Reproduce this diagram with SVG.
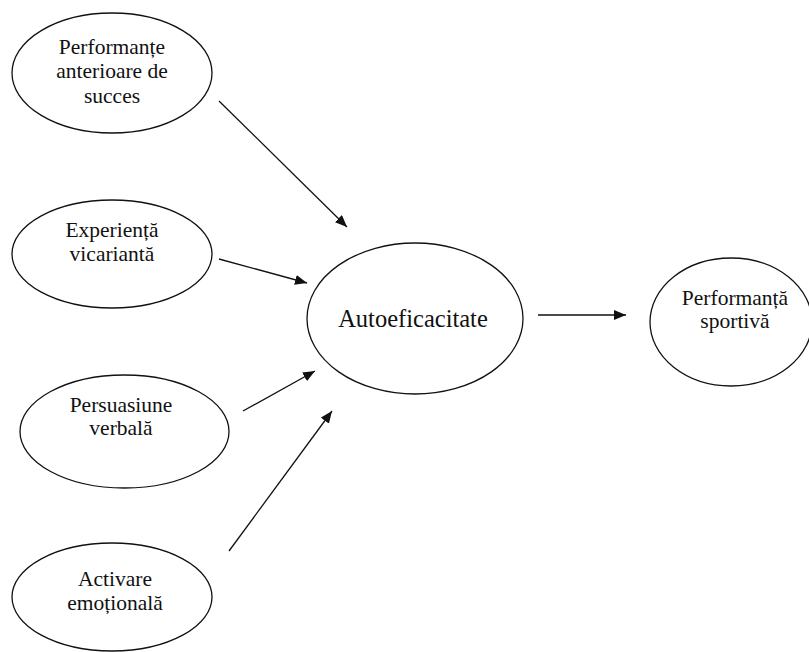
<svg xmlns="http://www.w3.org/2000/svg" width="809" height="652" viewBox="0 0 809 652">
<style>
.n{fill:#fff;stroke:#111;stroke-width:1.3}
.t{font-family:'Liberation Serif','Times New Roman','DejaVu Serif',serif;font-size:21.5px;fill:#111;text-anchor:middle}
.c{stroke:#111;stroke-width:1.3;fill:none;marker-end:url(#ah)}
</style>
<defs>
<marker id="ah" viewBox="0 0 12 10" refX="12" refY="5" markerWidth="12" markerHeight="10" markerUnits="userSpaceOnUse" orient="auto">
<path d="M0,0 L12,5 L0,10 z" fill="#111"/>
</marker>
</defs>
<rect width="809" height="652" fill="#fff"/>
<g id="n1">
<ellipse class="n" cx="112" cy="73" rx="100" ry="60"/>
<text class="t" x="112" y="54" font-family="Liberation Serif, serif">Performanțe</text>
<text class="t" x="112" y="78" font-family="Liberation Serif, serif">anterioare de</text>
<text class="t" x="112" y="103" font-family="Liberation Serif, serif">succes</text>
</g>
<g id="n2">
<ellipse class="n" cx="112" cy="254" rx="100" ry="54"/>
<text class="t" x="112" y="237" font-family="Liberation Serif, serif">Experiență</text>
<text class="t" x="112" y="261" font-family="Liberation Serif, serif">vicariantă</text>
</g>
<g id="n3">
<ellipse class="n" cx="124.5" cy="431.5" rx="104.5" ry="56.5"/>
<text class="t" x="121" y="412" font-family="Liberation Serif, serif">Persuasiune</text>
<text class="t" x="121" y="435" font-family="Liberation Serif, serif">verbală</text>
</g>
<g id="n4">
<ellipse class="n" cx="112" cy="597" rx="100" ry="54"/>
<text class="t" x="115" y="586" font-family="Liberation Serif, serif">Activare</text>
<text class="t" x="115" y="610" font-family="Liberation Serif, serif">emoțională</text>
</g>
<g id="n5">
<ellipse class="n" cx="415" cy="318.5" rx="108" ry="75.5"/>
<text class="t" x="413" y="327" font-family="Liberation Serif, serif" style="font-size:24.5px">Autoeficacitate</text>
</g>
<g id="n6">
<ellipse class="n" cx="731" cy="322" rx="81" ry="64"/>
<text class="t" x="735" y="305" font-family="Liberation Serif, serif">Performanță</text>
<text class="t" x="735" y="328" font-family="Liberation Serif, serif">sportivă</text>
</g>
<g id="connectors">
<line class="c" x1="219" y1="101" x2="347" y2="227"/>
<line class="c" x1="219" y1="259" x2="307" y2="283"/>
<line class="c" x1="243" y1="411" x2="315" y2="371"/>
<line class="c" x1="229" y1="551" x2="332" y2="411"/>
<line class="c" x1="538" y1="315" x2="626" y2="315"/>
</g>
</svg>
